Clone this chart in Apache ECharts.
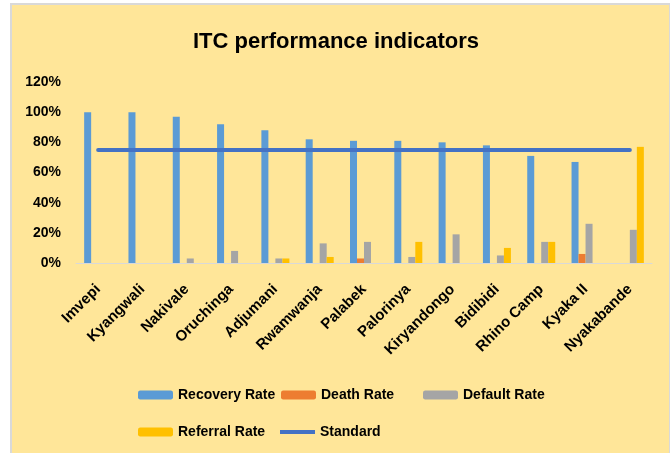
<!DOCTYPE html>
<html>
<head>
<meta charset="utf-8">
<script src="https://cdn.jsdelivr.net/npm/echarts@6/dist/echarts.min.js"></script>
<style>
  body { margin: 0; background: #fff; }
  #wrap { position: relative; width: 672px; height: 453px; }
  #frame {
    position: absolute; left: 10px; top: 3px; width: 660px; height: 450px;
    background: #FFE699; border-left: 2px solid #d9d9d9; border-top: 2px solid #d9d9d9;
    border-right: 1px solid #d9d9d9; box-sizing: border-box;
  }
  #chart { position: absolute; left: 0; top: 0; width: 672px; height: 453px; }
</style>
</head>
<body>
<div id="wrap">
  <div id="frame"></div>
  <div id="chart"></div>
</div>
<script>
var camps = ['Imvepi', 'Kyangwali', 'Nakivale', 'Oruchinga', 'Adjumani', 'Rwamwanja', 'Palabek',
  'Palorinya', 'Kiryandongo', 'Bidibidi', 'Rhino Camp', 'Kyaka II', 'Nyakabande'];
var recoveryRate = [100, 100, 97, 92, 88, 82, 81, 81, 80, 78, 71, 67, 0];
var deathRate    = [0, 0, 0, 0, 0, 0, 3, 0, 0, 0, 0, 6, 0];
var defaultRate  = [0, 0, 3, 8, 3, 13, 14, 4, 19, 5, 14, 26, 22];
var referralRate = [0, 0, 0, 0, 3, 4, 0, 14, 0, 10, 14, 0, 77];
var standard     = [75, 75, 75, 75, 75, 75, 75, 75, 75, 75, 75, 75, 75];

var myChart = echarts.init(document.getElementById('chart'));

var txt = { color: '#000', fontWeight: 'bold', fontSize: 14, fontFamily: 'Liberation Sans' };

function legendAt(name, left, top) {
    return {
        data: [name],
        left: left,
        top: top,
        itemWidth: 35,
        itemHeight: 9,
        itemGap: 5,
        textStyle: txt
    };
}

function barSeries(name, data, color) {
    return {
        name: name,
        type: 'bar',
        data: data,
        barWidth: 7,
        barGap: '0%',
        itemStyle: { color: color },
        animation: false
    };
}

var option = {
    backgroundColor: 'transparent',
    title: {
        text: 'ITC performance indicators',
        left: 'center',
        top: 26,
        textStyle: { color: '#000', fontSize: 22, fontWeight: 'bold', fontFamily: 'Liberation Sans' }
    },
    legend: [
        legendAt('Recovery Rate', 133, 383),
        legendAt('Death Rate', 276, 383),
        legendAt('Default Rate', 418, 383),
        legendAt('Referral Rate', 133, 420),
        {
            data: [{ name: 'Standard', icon: 'path://M0,0 L35,0 L35,4 L0,4 Z' }],
            left: 275, top: 420, itemWidth: 35, itemHeight: 4, textStyle: txt
        }
    ],
    grid: { left: 76, right: 20, top: 82, bottom: 190 },
    xAxis: {
        type: 'category',
        data: camps,
        axisLine: { lineStyle: { color: '#d9d9d9', width: 1 } },
        axisTick: { show: false },
        axisLabel: {
            rotate: 45,
            interval: 0,
            margin: 24,
            color: '#000',
            fontWeight: 'bold',
            fontSize: 15,
            fontFamily: 'Liberation Sans'
        }
    },
    yAxis: {
        type: 'value',
        min: 0,
        max: 120,
        interval: 20,
        axisLine: { show: false },
        axisTick: { show: false },
        splitLine: { show: false },
        axisLabel: {
            formatter: '{value}%',
            margin: 15,
            color: '#000',
            fontWeight: 'bold',
            fontSize: 14,
            fontFamily: 'Liberation Sans'
        }
    },
    series: [
        barSeries('Recovery Rate', recoveryRate, '#5B9BD5'),
        barSeries('Death Rate', deathRate, '#ED7D31'),
        barSeries('Default Rate', defaultRate, '#A5A5A5'),
        barSeries('Referral Rate', referralRate, '#FFC000'),
        {
            name: 'Standard',
            type: 'line',
            data: standard,
            symbol: 'none',
            lineStyle: { color: '#4472C4', width: 4, cap: 'round' },
            itemStyle: { color: '#4472C4' },
            animation: false,
            z: 5
        }
    ]
};
myChart.setOption(option);
</script>
</body>
</html>
